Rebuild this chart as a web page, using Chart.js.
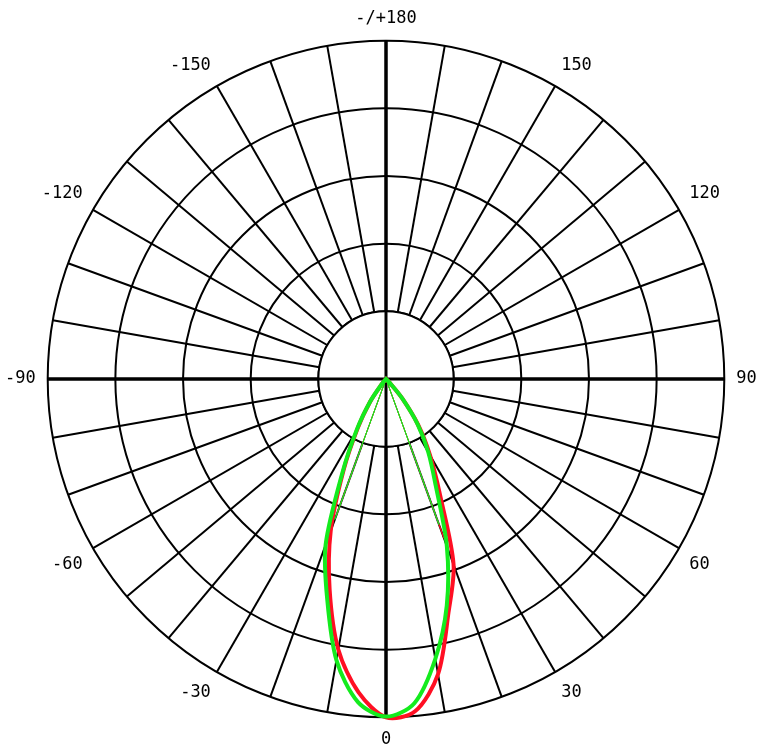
<!DOCTYPE html>
<html>
<head>
<meta charset="utf-8">
<script src="https://cdn.jsdelivr.net/npm/chart.js@4.4.3/dist/chart.umd.min.js"></script>
<style>
  html, body { margin: 0; padding: 0; background: #fff; }
</style>
</head>
<body>
<canvas id="polar" width="769" height="753"></canvas>
<script>
// Angulos del diagrama (cada 5 grados, sentido horario empezando arriba en 180)
const anglesDeg = [
  180, 175, 170, 165, 160, 155, 150, 145, 140, 135, 130, 125,
  120, 115, 110, 105, 100, 95, 90, 85, 80, 75, 70, 65,
  60, 55, 50, 45, 40, 35, 30, 25, 20, 15, 10, 5,
  0, -5, -10, -15, -20, -25, -30, -35, -40, -45, -50, -55,
  -60, -65, -70, -75, -80, -85, -90, -95, -100, -105, -110, -115,
  -120, -125, -130, -135, -140, -145, -150, -155, -160, -165, -170, -175
];

// Lóbulo de intensidad (escala 0-500, el círculo exterior es 500)
const lobeAngles  = [-45, -40, -35, -30, -25, -20, -15, -10, -5, 0, 5, 10, 15, 20, 25, 30, 35, 40, 45, 50];
const greenValues = [0, 9, 41, 86, 152, 261, 336, 422, 479, 499, 481, 420, 347, 263, 174, 125, 81, 37, 7, 0];
const redValues   = [0, 9, 41, 83, 148, 239, 322, 406, 465, 500, 493, 443, 357, 292, 189, 130, 83, 37, 7, 0];

// Líneas finas desde el centro
const thinAngles      = [-20, 20];
const greenThinValues = [221, 229];
const redThinValues   = [214, 251];

// Etiquetas visibles cada 30 grados
const labelAngles = [180, 150, 120, 90, 60, 30, 0, -30, -60, -90, -120, -150];

const GREEN = 'rgb(20, 235, 30)';
const RED = 'rgb(255, 15, 35)';

function toSeries(angles, values) {
  const serie = anglesDeg.map(() => 0);
  angles.forEach((a, i) => {
    serie[anglesDeg.indexOf(a)] = values[i];
  });
  return serie;
}

// Disco central blanco y ejes que cruzan el centro
const hubPlugin = {
  id: 'hub',
  beforeDatasetsDraw(chart) {
    const r = chart.scales.r;
    const ctx = chart.ctx;
    const inner = r.getDistanceFromCenterForValue(100);
    const outer = r.getDistanceFromCenterForValue(500);
    ctx.save();
    ctx.beginPath();
    ctx.arc(r.xCenter, r.yCenter, inner, 0, Math.PI * 2);
    ctx.fillStyle = '#fff';
    ctx.fill();
    ctx.lineWidth = 2;
    ctx.strokeStyle = '#000';
    ctx.stroke();
    ctx.beginPath();
    ctx.moveTo(r.xCenter - outer, r.yCenter);
    ctx.lineTo(r.xCenter + outer, r.yCenter);
    ctx.moveTo(r.xCenter, r.yCenter - outer);
    ctx.lineTo(r.xCenter, r.yCenter + outer);
    ctx.lineWidth = 3;
    ctx.stroke();
    ctx.restore();
  }
};

new Chart(document.getElementById('polar'), {
  type: 'radar',
  data: {
    labels: anglesDeg.map(String),
    datasets: [
      { data: toSeries(lobeAngles, greenValues), borderColor: GREEN, borderWidth: 4, tension: 0.3 },
      { data: toSeries(thinAngles, greenThinValues), borderColor: GREEN, borderWidth: 1, tension: 0 },
      { data: toSeries(lobeAngles, redValues), borderColor: RED, borderWidth: 4, tension: 0.3 },
      { data: toSeries(thinAngles, redThinValues), borderColor: RED, borderWidth: 1, tension: 0 }
    ]
  },
  options: {
    responsive: false,
    animation: false,
    devicePixelRatio: 1,
    layout: { padding: { top: 8, bottom: 2, left: 0, right: 6 } },
    elements: {
      point: { radius: 0, hoverRadius: 0 },
      line: { fill: false }
    },
    plugins: {
      legend: { display: false },
      tooltip: { enabled: false }
    },
    scales: {
      r: {
        min: 0,
        max: 500,
        ticks: { display: false, stepSize: 100 },
        grid: { circular: true, color: '#000', lineWidth: 2 },
        angleLines: {
          color: ctx => ctx.index % 2 === 0 ? '#000' : 'rgba(0,0,0,0)',
          lineWidth: ctx => ctx.index % 18 === 0 ? 3 : (ctx.index % 2 === 0 ? 2 : 0)
        },
        pointLabels: {
          padding: 12,
          color: '#000',
          font: { family: 'DejaVu Sans Mono', size: 17 },
          callback: label => {
            const a = Number(label);
            if (a === 180) return '-/+180';
            return labelAngles.includes(a) ? label : '';
          }
        }
      }
    }
  },
  plugins: [hubPlugin]
});
</script>
</body>
</html>
